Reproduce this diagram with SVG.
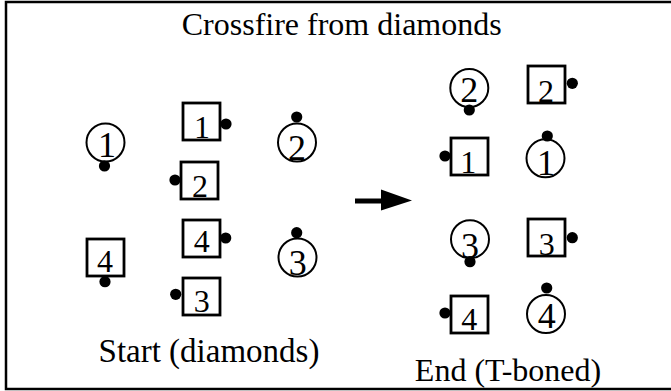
<svg xmlns="http://www.w3.org/2000/svg" width="671" height="391" viewBox="0 0 671 391">
<style>
text{font-family:'Liberation Serif','DejaVu Serif',serif;fill:#000;text-anchor:middle}
.d{font-size:32px}
.e{font-size:36px}
.c{fill:none;stroke:#000;stroke-width:2}
.s{fill:none;stroke:#000;stroke-width:2.8}
.p{fill:#000}
</style>
<rect x="6" y="2" width="700" height="387" fill="#fff" stroke="#000" stroke-width="2.5"/>
<text x="341.7" y="35" font-size="32">Crossfire from diamonds</text>
<text x="209" y="361.7" font-size="33">Start (diamonds)</text>
<text x="508" y="381" font-size="32">End (T-boned)</text>

<g id="start-c1"><circle class="c" cx="105.5" cy="142.5" r="19"/><text class="e" x="107" y="157">1</text><circle class="p" cx="104.5" cy="166" r="5.6"/></g>
<g id="start-s1"><rect class="s" x="183" y="103" width="37" height="37"/><text class="d" x="202" y="138">1</text><circle class="p" cx="226" cy="124" r="5.6"/></g>
<g id="start-s2"><rect class="s" x="181" y="162" width="37" height="37"/><text class="d" x="200" y="197.3">2</text><circle class="p" cx="175" cy="180" r="5.6"/></g>
<g id="start-c2"><circle class="c" cx="297" cy="142.5" r="19"/><text class="e" x="297" y="160">2</text><circle class="p" cx="296.7" cy="117" r="5.6"/></g>
<g id="start-s4a"><rect class="s" x="87" y="239" width="37" height="37"/><text class="d" x="105" y="271.7">4</text><circle class="p" cx="105" cy="281.7" r="5.6"/></g>
<g id="start-s4b"><rect class="s" x="183" y="220" width="37" height="37"/><text class="d" x="201.7" y="252">4</text><circle class="p" cx="225.7" cy="238" r="5.6"/></g>
<g id="start-s3"><rect class="s" x="183" y="278" width="37" height="37"/><text class="d" x="201.7" y="311.7">3</text><circle class="p" cx="175.7" cy="294.3" r="5.6"/></g>
<g id="start-c3"><circle class="c" cx="297.5" cy="257.5" r="19"/><text class="e" x="297.7" y="275">3</text><circle class="p" cx="296.7" cy="232.7" r="5.6"/></g>

<g id="end-c2"><circle class="c" cx="469.3" cy="88" r="19"/><text class="e" x="469.3" y="101.7">2</text><circle class="p" cx="469.3" cy="110" r="5.6"/></g>
<g id="end-s2"><rect class="s" x="528" y="66" width="37" height="37"/><text class="d" x="546" y="101.7">2</text><circle class="p" cx="572.3" cy="83.3" r="5.6"/></g>
<g id="end-s1"><rect class="s" x="451" y="138" width="37" height="37"/><text class="d" x="468.3" y="172.7">1</text><circle class="p" cx="445" cy="156" r="5.6"/></g>
<g id="end-c1"><circle class="c" cx="545.5" cy="158.3" r="19"/><text class="e" x="546" y="175">1</text><circle class="p" cx="547.3" cy="136" r="5.6"/></g>
<g id="end-c3"><circle class="c" cx="470" cy="239.2" r="19"/><text class="e" x="470" y="258.3">3</text><circle class="p" cx="470" cy="261.7" r="5.6"/></g>
<g id="end-s3"><rect class="s" x="528" y="219" width="37" height="37"/><text class="d" x="546.7" y="255">3</text><circle class="p" cx="572.3" cy="237.7" r="5.6"/></g>
<g id="end-s4"><rect class="s" x="451" y="296" width="37" height="37"/><text class="d" x="469.3" y="330">4</text><circle class="p" cx="445" cy="313" r="5.6"/></g>
<g id="end-c4"><circle class="c" cx="546" cy="314" r="19"/><text class="e" x="546.7" y="328.3">4</text><circle class="p" cx="546.7" cy="288" r="5.6"/></g>

<g id="connectors">
<line x1="355" y1="201" x2="384" y2="201" stroke="#000" stroke-width="5"/>
<polygon points="381,189.5 412,200.5 381,210.5" fill="#000"/>
</g>
</svg>
